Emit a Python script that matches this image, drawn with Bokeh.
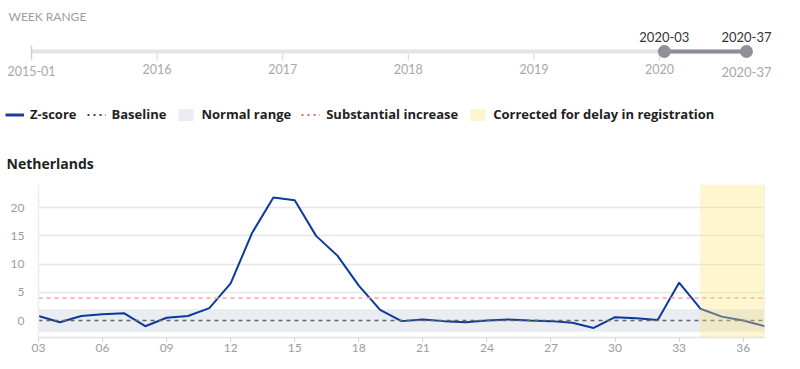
from bokeh.plotting import figure
from bokeh.layouts import column
from bokeh.models import (Range1d, FixedTicker, Span, BoxAnnotation, Legend, LegendItem,
                          ColumnDataSource)
from bokeh.embed import file_html
from bokeh.resources import INLINE
from bokeh.core.properties import value

FONT = "Lato"
FONT_B = "Open Sans"

# ---------------- data ----------------
weeks = list(range(3, 38))
zscore = [0.8, -0.3, 0.8, 1.1, 1.3, -1.0, 0.5, 0.8, 2.2, 6.6, 15.5, 21.8, 21.3, 15.0,
          11.5, 6.2, 1.9, -0.1, 0.2, -0.1, -0.3, 0.0, 0.2, 0.0, -0.1, -0.4, -1.3, 0.6,
          0.4, 0.1, 6.7, 2.1, 0.7, 0.0, -1.0]
baseline = 0
normal_range = (-2, 2)
substantial_increase = 4
corrected_weeks = (34, 37)
x_ticks = list(range(3, 37, 3))
x_tick_labels = ["03", "06", "09", "12", "15", "18", "21", "24", "27", "30", "33", "36"]
y_ticks = [0, 5, 10, 15, 20]
country = "Netherlands"

# slider data
slider_first = (2015, 1)
slider_years = [2016, 2017, 2018, 2019, 2020]
range_start = (2020, 3)
range_end = (2020, 37)


def yw(y, w):
    return y + (w - 1) / 52.0


W = 784

# ---------------- slider figure ----------------
px_per_year = 125.6
xs0 = yw(*slider_first) - 31 / px_per_year
sl = figure(width=W, height=88, output_backend="svg", toolbar_location=None,
            x_range=Range1d(xs0, xs0 + W / px_per_year), y_range=Range1d(88, 0),
            min_border=0, frame_align=False)
sl.axis.visible = False
sl.grid.visible = False
sl.outline_line_color = None

sl.text(x=[xs0 + 8 / px_per_year], y=[16], text=["WEEK RANGE"], text_font=value(FONT),
        text_font_size="12px", text_color="#9d9d9d", text_baseline="middle",
        text_align="left")
x_first = yw(*slider_first)
x_s = yw(*range_start)
x_e = yw(*range_end)
sl.segment(x0=[x_first], y0=[51], x1=[x_e], y1=[51], line_color="#e3e3e3", line_width=4)
sl.segment(x0=[x_first], y0=[45], x1=[x_first], y1=[59], line_color="#d0d0d0", line_width=1.5)
sl.segment(x0=slider_years, y0=[53] * len(slider_years), x1=slider_years,
           y1=[60] * len(slider_years), line_color="#d6d6d6", line_width=1)
sl.text(x=slider_years, y=[68] * len(slider_years), text=[str(y) for y in slider_years],
        text_font=value(FONT), text_font_size="12.5px", text_color="#a8a8a8",
        text_align="center", text_baseline="middle")
sl.text(x=[x_first], y=[70], text=["%d-%02d" % slider_first], text_font=value(FONT),
        text_font_size="12.5px", text_color="#a8a8a8", text_align="center",
        text_baseline="middle")
sl.segment(x0=[x_s], y0=[51], x1=[x_e], y1=[51], line_color="#8b8f98", line_width=4)
sl.scatter(x=[x_s, x_e], y=[51, 51], size=13, fill_color="#8e9199", line_color=None)
sl.text(x=[x_s, x_e], y=[36, 36], text=["%d-%02d" % range_start, "%d-%02d" % range_end],
        text_font=value(FONT), text_font_size="13px", text_color="#333333",
        text_align="center", text_baseline="middle")
sl.text(x=[x_e], y=[71], text=["%d-%02d" % range_end], text_font=value(FONT),
        text_font_size="13px", text_color="#a8a8a8", text_align="center",
        text_baseline="middle")

# ---------------- legend figure ----------------
lg = figure(width=W, height=50, output_backend="svg", toolbar_location=None,
            min_border=0, x_range=Range1d(0, 1), y_range=Range1d(0, 1), frame_align=False)
lg.axis.visible = False
lg.grid.visible = False
lg.outline_line_color = None
# legend-only renderers, placed outside the visible range
off = ColumnDataSource(data=dict(x=[5, 6], y=[5, 6], l=[5, 6], r=[5.5, 6.5],
                                 b=[5, 6], t=[5.5, 6.5]))
r_z = lg.line("x", "y", source=off, line_color="#1a3d9e", line_width=3)
r_b = lg.line("x", "y", source=off, line_color="#444444", line_width=2, line_dash="2 4")
r_n = lg.quad(left="l", right="r", bottom="b", top="t", source=off,
              fill_color="#e9ecf1", line_color=None)
r_s = lg.line("x", "y", source=off, line_color="#f06060", line_width=2, line_dash="2 4")
r_c = lg.quad(left="l", right="r", bottom="b", top="t", source=off,
              fill_color="#fdf5cf", line_color=None)
legend = Legend(items=[LegendItem(label="Z-score", renderers=[r_z]),
                       LegendItem(label="Baseline", renderers=[r_b]),
                       LegendItem(label="Normal range", renderers=[r_n]),
                       LegendItem(label="Substantial increase", renderers=[r_s]),
                       LegendItem(label="Corrected for delay in registration", renderers=[r_c])],
                orientation="horizontal", location=(5, 15), padding=0, margin=0,
                spacing=10, glyph_width=19, glyph_height=15, label_standoff=6,
                label_text_font=FONT_B, label_text_font_size="13px",
                label_text_font_style="bold", label_text_color="#222222",
                border_line_color=None, background_fill_alpha=0)
lg.add_layout(legend, "center")

# ---------------- chart figure ----------------
p = figure(width=W, height=223, output_backend="svg", toolbar_location=None,
           x_range=Range1d(weeks[0], weeks[-1]), y_range=Range1d(-3, 24.1),
           min_border_left=38, min_border_right=20, min_border_top=46,
           min_border_bottom=24, frame_align=False)
p.title.text = country
p.title.text_font = FONT_B
p.title.text_font_size = "14px"
p.title.text_color = "#222222"
p.title.align = "left"
p.title.offset = -32
p.title.standoff = 23
p.outline_line_color = None
p.background_fill_color = "white"

p.add_layout(BoxAnnotation(bottom=normal_range[0], top=normal_range[1],
                           fill_color="#e9ecf1", fill_alpha=1, line_color=None,
                           level="underlay"))
p.xgrid.visible = False
p.ygrid.ticker = FixedTicker(ticks=y_ticks)
p.ygrid.grid_line_color = "#e6e6e6"
p.ygrid.grid_line_width = 1.5
p.ygrid.level = "underlay"

p.add_layout(Span(location=baseline, dimension="width", line_color="#666666",
                  line_width=1.5, line_dash="4 4", level="glyph"))
p.add_layout(Span(location=substantial_increase, dimension="width", line_color="#ff9c9c",
                  line_width=1.5, line_dash="4 4", level="glyph"))
p.add_layout(Span(location=weeks[-1], dimension="height", line_color="#ececec",
                  line_width=1.5, level="underlay"))

p.line(weeks, zscore, line_color="#0b3a9c", line_width=2)

p.add_layout(BoxAnnotation(left=corrected_weeks[0], right=corrected_weeks[1],
                           fill_color="#fbe27a", fill_alpha=0.35, line_color=None,
                           level="overlay"))

xa = p.xaxis[0]
xa.ticker = FixedTicker(ticks=x_ticks)
xa.major_label_overrides = {t: l for t, l in zip(x_ticks, x_tick_labels)}
xa.axis_line_color = "#e3e3e3"
xa.axis_line_width = 1.5
xa.major_tick_line_color = "#cfcfcf"
xa.major_tick_out = 4
xa.major_tick_in = 0
xa.minor_tick_line_color = None
xa.major_label_text_font = FONT
xa.major_label_text_font_size = "12px"
xa.major_label_text_color = "#9d9d9d"
xa.major_label_standoff = 2

ya = p.yaxis[0]
ya.ticker = FixedTicker(ticks=y_ticks)
ya.axis_line_color = "#ececec"
ya.axis_line_width = 1.5
ya.major_tick_line_color = None
ya.minor_tick_line_color = None
ya.major_label_text_font = FONT
ya.major_label_text_font_size = "12px"
ya.major_label_text_color = "#9d9d9d"
ya.major_label_standoff = 8

layout = column(sl, lg, p, spacing=0)
open("out.html", "w").write(file_html(layout, INLINE))
